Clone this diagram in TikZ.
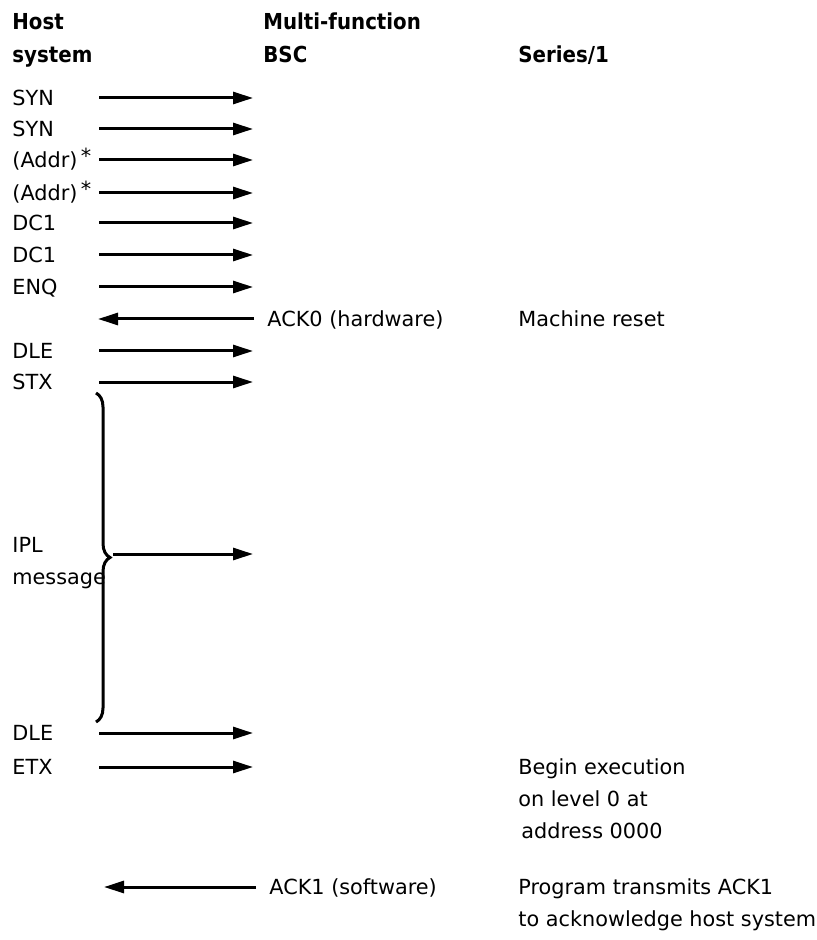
\documentclass[tikz,border=0pt]{standalone}
\usepackage{fontspec}
\setmainfont{DejaVu Sans}
\newfontfamily\headfont{DejaVu Sans Condensed}
\usetikzlibrary{arrows.meta, decorations.pathreplacing}

\begin{document}
\begin{tikzpicture}[x=0.5pt, y=-0.5pt,
  every node/.style={font=\fontsize{10.4}{12}\selectfont, inner sep=0pt, text height=7.5pt, text depth=0pt},
  head/.style={font=\headfont\fontsize{11}{13}\selectfont\bfseries, anchor=west},
  lbl/.style={anchor=west},
  msg/.style={line width=1.5pt, -{Triangle[length=10pt,width=6pt]}}]
  \useasboundingbox (0,0) rectangle (817,940);
  % column heads
  \node[head] (host1) at (12,22) {Host};
  \node[head] (host2) at (12,55) {system};
  \node[head] (bsc1) at (263,22) {Multi-function};
  \node[head] (bsc2) at (263,55) {BSC};
  \node[head] (ser) at (518,55) {Series/1};
  % host to BSC
  \foreach \n/\t/\y in {1/SYN/98, 2/SYN/129, 3/{(Addr)\,\raisebox{2pt}{*}}/160,
      4/{(Addr)\,\raisebox{2pt}{*}}/193, 5/DC1/223, 6/DC1/255, 7/ENQ/287,
      8/DLE/351, 9/STX/382, 10/DLE/733, 11/ETX/767} {
    \node[lbl] (h\n) at (12,\y) {\t};
    \coordinate (a\n) at (99,\y);
    \coordinate (b\n) at (253,\y);
    \draw[msg] (a\n) -- (b\n);
  }
  % ACK0 back to host
  \node[lbl] (ack0) at (267,319) {ACK0 (hardware)};
  \node[lbl] (reset) at (518,319) {Machine reset};
  \coordinate (ack0s) at (254,319);
  \coordinate (ack0e) at (98,319);
  \draw[msg] (ack0s) -- (ack0e);
  % IPL message
  \node[lbl] (ipl1) at (12,545) {IPL};
  \node[lbl] (ipl2) at (12,577) {message};
  \coordinate (brtop) at (96,393);
  \coordinate (brbot) at (96,722);
  \draw[line width=1.5pt, decorate, decoration={brace, amplitude=7pt}] (brtop) -- (brbot);
  \coordinate (ipls) at (113,554);
  \coordinate (iple) at (253,554);
  \draw[msg] (ipls) -- (iple);
  % Series/1 response
  \node[lbl] (exec1) at (518,767) {Begin execution};
  \node[lbl] (exec2) at (518,799) {on level 0 at};
  \node[lbl] (exec3) at (521,831) {address 0000};
  \node[lbl] (ack1) at (269,887) {ACK1 (software)};
  \node[lbl] (prog1) at (518,887) {Program transmits ACK1};
  \node[lbl] (prog2) at (518,919) {to acknowledge host system};
  \coordinate (ack1s) at (256,887);
  \coordinate (ack1e) at (104,887);
  \draw[msg] (ack1s) -- (ack1e);
\end{tikzpicture}
\end{document}
